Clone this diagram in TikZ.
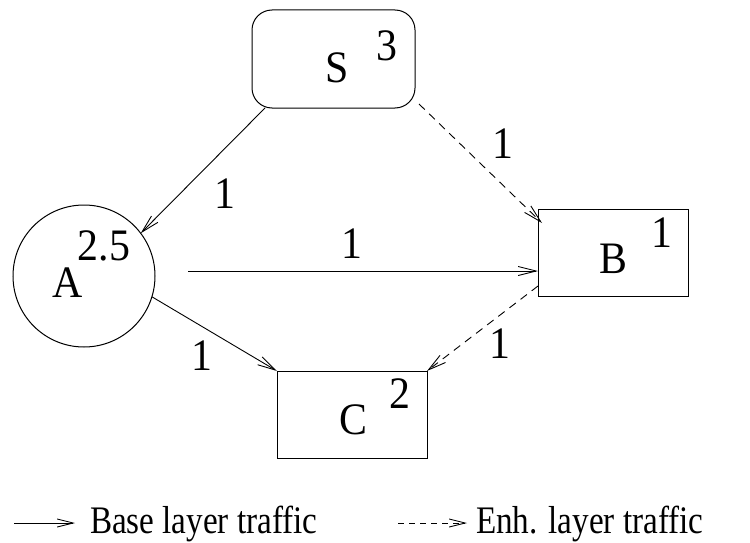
\documentclass[tikz,border=0pt]{standalone}
\usepackage{fontspec}
\setmainfont{Liberation Serif}
\newfontfamily\labelfont[FakeStretch=0.93]{Liberation Serif}
\newfontfamily\legendfont[FakeStretch=0.85]{Liberation Serif}
\usetikzlibrary{arrows.meta}
\begin{document}
\begin{tikzpicture}[x=1pt,y=-1pt,
  every node/.style={inner sep=0pt, outer sep=0pt},
  box/.style={draw, line width=1pt, minimum width=150pt, minimum height=87pt},
  big/.style={font=\labelfont\fontsize{45}{52}\selectfont, anchor=base},
  leg/.style={font=\legendfont\fontsize{39}{46}\selectfont, anchor=base west},
  link/.style={line width=0.9pt, -{Straight Barb[length=18pt,width=9pt,line width=0.9pt]}},
  enh/.style={link, dash pattern=on 8pt off 6pt}]
  \useasboundingbox (0,0) rectangle (750,543);

  % nodes
  \node[box, rounded corners=20pt, minimum width=163pt, minimum height=98pt] (S) at (333.5,59) {};
  \node[draw, circle, line width=1pt, minimum size=142pt] (A) at (84,276) {};
  \node[box] (B) at (613,252.5) {};
  \node[box] (C) at (352,414.5) {};

  % node names and weights
  \node[big] (Sl) at (337,83) {S};
  \node[big] (Sw) at (387,60) {3};
  \node[big] (Al) at (68,297) {A};
  \node[big] (Aw) at (104,260) {2.5};
  \node[big] (Bl) at (613,273) {B};
  \node[big] (Bw) at (662,247) {1};
  \node[big] (Cl) at (353,434) {C};
  \node[big] (Cw) at (400,408) {2};

  % links
  \coordinate (a0) at (188,271);
  \draw[link] ([xshift=13pt]S.south west) -- (A.37);
  \draw[enh] ([xshift=4pt,yshift=4pt]S.south east) -- ([xshift=4pt,yshift=-14pt]B.north west);
  \draw[link] (a0) -- ([yshift=-18.5pt]B.west);
  \draw[link] (A.-17) -- (C.north west);
  \draw[enh] ([yshift=10pt]B.south west) -- (C.north east);

  % link weights
  \node[big] (w1) at (225,208) {1};
  \node[big] (w2) at (503,158) {1};
  \node[big] (w3) at (352,258) {1};
  \node[big] (w4) at (202,370) {1};
  \node[big] (w5) at (500,358) {1};

  % legend
  \coordinate (l1a) at (14,523);
  \coordinate (l1b) at (75,523);
  \coordinate (l2a) at (398,523);
  \coordinate (l2b) at (467,523);
  \draw[line width=0.9pt, -{Straight Barb[length=16pt,width=8pt,line width=0.9pt]}] (l1a) -- (l1b);
  \draw[line width=0.9pt, dash pattern=on 6pt off 5pt, -{Straight Barb[length=16pt,width=8pt,line width=0.9pt]}] (l2a) -- (l2b);
  \node[leg] (t1) at (90,533) {Base layer traffic};
  \node[leg] (t2) at (476,533) {Enh. layer traffic};
\end{tikzpicture}
\end{document}
